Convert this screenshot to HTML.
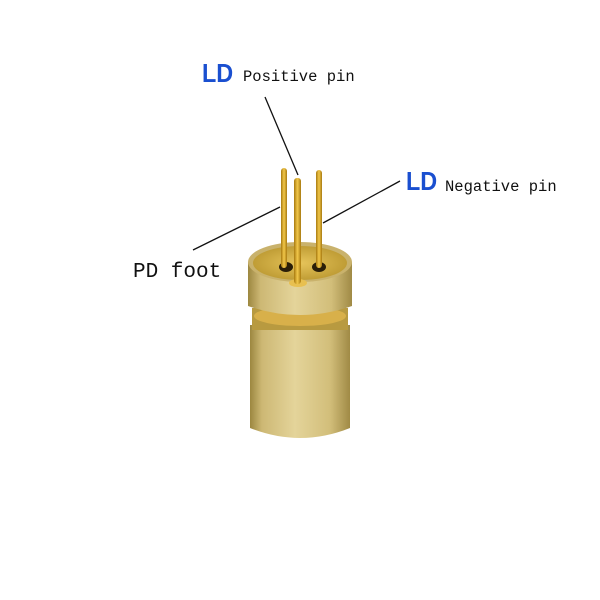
<!DOCTYPE html>
<html><head><style>
html,body{margin:0;padding:0;background:#fff;width:600px;height:600px;overflow:hidden}
</style></head><body>
<svg width="600" height="600" xmlns="http://www.w3.org/2000/svg">
<defs>
<linearGradient id="body" x1="0" x2="1" y1="0" y2="0">
<stop offset="0" stop-color="#9c8740"/>
<stop offset="0.12" stop-color="#cdb874"/>
<stop offset="0.45" stop-color="#e4d49a"/>
<stop offset="0.8" stop-color="#d2be7a"/>
<stop offset="1" stop-color="#a08a45"/>
</linearGradient>
<linearGradient id="pin" x1="0" x2="1">
<stop offset="0" stop-color="#a87a10"/>
<stop offset="0.5" stop-color="#f2c84a"/>
<stop offset="1" stop-color="#a87a10"/>
</linearGradient>
<radialGradient id="top" cx="0.5" cy="0.5" r="0.6">
<stop offset="0" stop-color="#e6c45a"/>
<stop offset="1" stop-color="#b8952e"/>
</radialGradient>
</defs>
<path d="M250 325 L250 428 Q300 448 350 428 L350 325 Z" fill="url(#body)"/>
<rect x="252" y="308" width="96" height="22" fill="#b89a40"/>
<ellipse cx="300" cy="316" rx="46" ry="10" fill="#d8b04a"/>
<path d="M248 262 L248 306 Q300 324 352 306 L352 262 Z" fill="url(#body)"/>
<ellipse cx="300" cy="262" rx="52" ry="20" fill="#c9b26c"/>
<ellipse cx="300" cy="263" rx="47" ry="17" fill="url(#top)"/>
<ellipse cx="286" cy="267" rx="7" ry="5" fill="#2a1e08"/>
<ellipse cx="319" cy="267" rx="7" ry="5" fill="#2a1e08"/>
<ellipse cx="298" cy="283" rx="9" ry="4" fill="#e8c050"/>
<rect x="281" y="168" width="6" height="100" rx="3" fill="url(#pin)"/>
<rect x="316" y="170" width="6" height="98" rx="3" fill="url(#pin)"/>
<rect x="294" y="178" width="7" height="106" rx="3" fill="url(#pin)"/>
<g stroke="#111" stroke-width="1.3">
<line x1="265" y1="97" x2="298" y2="175"/>
<line x1="400" y1="181" x2="323" y2="223"/>
<line x1="193" y1="250" x2="280" y2="207"/>
</g>
<g font-family="Liberation Sans, sans-serif" fill="#1a4fd0" font-weight="bold">
<text x="202" y="82" font-size="26" transform="translate(202 0) scale(0.9 1) translate(-202 0)">LD</text>
<text x="406" y="190" font-size="26" transform="translate(406 0) scale(0.9 1) translate(-406 0)">LD</text>
</g>
<g font-family="Liberation Mono, monospace" fill="#111">
<text x="243" y="81" font-size="15.5">Positive pin</text>
<text x="445" y="191" font-size="15.5">Negative pin</text>
<text x="133" y="277" font-size="21">PD foot</text>
</g>
</svg>
</body></html>
